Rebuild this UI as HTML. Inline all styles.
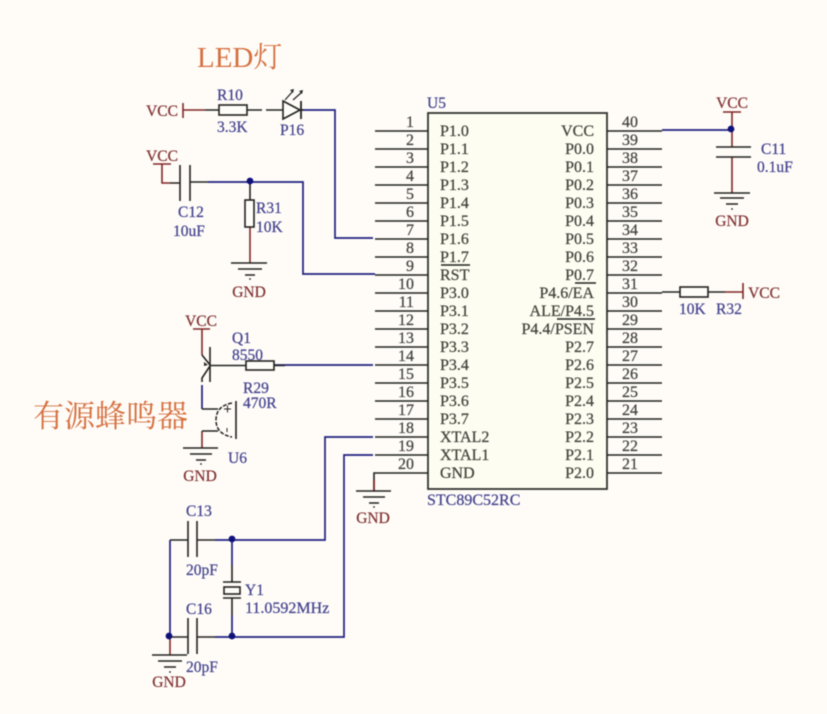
<!DOCTYPE html>
<html><head><meta charset="utf-8"><style>
html,body{margin:0;padding:0;background:#fffcf8}
svg{display:block;filter:blur(.5px)}
text{font-family:"Liberation Serif","Noto Serif CJK SC",serif;font-size:15.5px;stroke-width:.25px}
.c text{fill:#44443e;stroke:#44443e;font-size:16px}
.b text{fill:#44448e;stroke:#44448e}
.r text{fill:#823434;stroke:#823434}
</style></head><body>
<svg width="827" height="714" viewBox="0 0 827 714" xmlns="http://www.w3.org/2000/svg">
<rect width="827" height="714" fill="#fffcf8"/>
<rect x="428" y="113" width="179" height="376" fill="#fdfdf2" stroke="#33332e" stroke-width="1.8"/>
<!-- pins -->
<path fill="none" stroke="#22221e" stroke-width="1.6" d="M375 131H428M375 149H428M375 167H428M375 185H428M375 203H428M375 221H428M375 239H428M375 257H428M375 275H428M375 293H428M375 311H428M375 329H428M375 347H428M375 365H428M375 383H428M375 401H428M375 419H428M375 437H428M375 455H428M428 473H374V491
M607 131H662M607 149H662M607 167H662M607 185H662M607 203H662M607 221H662M607 239H662M607 257H662M607 275H662M607 293H662M607 311H662M607 329H662M607 347H662M607 365H662M607 383H662M607 401H662M607 419H662M607 437H662M607 455H662M607 473H662
M441 265H470M575 283H596M557 319H595"/>
<!-- blue wires -->
<path fill="none" stroke="#20207e" stroke-width="1.7" d="M302 110H335V238H373M208 182H303V274H375M274 365H373M373 437H325V540H215M373 455H344V637H215M662 130H731M202 385V409M170 540V636M232 540V565M232 615V636"/>
<!-- red wires -->
<path fill="none" stroke="#802626" stroke-width="1.6" d="M183 103V118M183 110H205M153 164H171M162 164V183H170M250 227V263M193 329H210M202 329V355M202 431V448M170 636V655M723 112H741M732 112V147M732 157V193M725 292H743M743 283V299M374 480V491"/>
<!-- dark symbol lines -->
<path fill="none" stroke="#22221e" stroke-width="1.6" d="M205 110H219M247 110H262M266 110H283M300 110H303M170 183H180M190 182H208M180 165V201M190 165V201M250 182V200M231 263H267M238 269H262M245 275H255
M202 355L210 365M210 347V382M210 366L202 378V382M210 365.500H246M274 365.500H285M202 409H218M202 431H218M236 401V439
M183 448H218M190 454H212M196 460H206M356 491H391M363 497H385M369 503H379
M170 540H188M197 540H215M188 521V557M197 521V557M170 637H188M197 637H215M188 618V654M197 618V654
M232 565V582M223 582H241M223 598H241M232 598V615M152 655H187M158 661H182M164 667H176
M716 147H751M716 157H751M714 193H750M720 198H744M726 204H738M662 292H680M708 292H725"/>
<!-- resistors -->
<g fill="#fffdf8" stroke="#22221e" stroke-width="1.6">
<rect x="219" y="105" width="28" height="10"/>
<rect x="245" y="200" width="9" height="27"/>
<rect x="246" y="361" width="28" height="9"/>
<rect x="680" y="287" width="28" height="10"/>
<rect x="224" y="587" width="16" height="7"/>
<path d="M283 101V119L300 110Z"/>
</g>
<path d="M301 101V119" stroke="#22221e" stroke-width="1.8"/>
<path d="M285 100L293 91M293 100L302 92" stroke="#22221e" stroke-width="1.2" fill="none"/>
<path d="M290 90l4-1-1 4zM299 91l4-1-1 4z" fill="#22221e"/>
<path d="M232 403Q216 406 216 420Q216 434 232 437" fill="none" stroke="#22221e" stroke-width="1.5" stroke-dasharray="4 1.500"/>
<path d="M224 409H231M227.500 405.500V412.500M227 428V432" stroke="#22221e" stroke-width="1"/>
<path d="M204 362l4 3-4 1z" fill="#22221e"/>
<g fill="#22221e"><circle cx="250" cy="279" r=".9"/><circle cx="201" cy="464" r=".9"/><circle cx="374" cy="507" r=".9"/><circle cx="170" cy="672" r=".9"/><circle cx="732" cy="209" r=".9"/></g>
<!-- junctions -->
<g fill="#10107a"><circle cx="250" cy="181" r="3.400"/><circle cx="232" cy="539" r="3.400"/><circle cx="232" cy="636" r="3.400"/><circle cx="169" cy="636" r="3.400"/><circle cx="731" cy="129" r="3.400"/></g>
<!-- chip labels -->
<g class="c">
<text x="440" y="136">P1.0</text><text x="440" y="154">P1.1</text><text x="440" y="172">P1.2</text><text x="440" y="190">P1.3</text><text x="440" y="208">P1.4</text><text x="440" y="226">P1.5</text><text x="440" y="244">P1.6</text><text x="440" y="262">P1.7</text><text x="440" y="280">RST</text><text x="440" y="298">P3.0</text><text x="440" y="316">P3.1</text><text x="440" y="334">P3.2</text><text x="440" y="352">P3.3</text><text x="440" y="370">P3.4</text><text x="440" y="388">P3.5</text><text x="440" y="406">P3.6</text><text x="440" y="424">P3.7</text><text x="440" y="442">XTAL2</text><text x="440" y="460">XTAL1</text><text x="440" y="478">GND</text>
<g text-anchor="end">
<text x="594" y="136">VCC</text><text x="594" y="154">P0.0</text><text x="594" y="172">P0.1</text><text x="594" y="190">P0.2</text><text x="594" y="208">P0.3</text><text x="594" y="226">P0.4</text><text x="594" y="244">P0.5</text><text x="594" y="262">P0.6</text><text x="594" y="280">P0.7</text><text x="594" y="298">P4.6/EA</text><text x="594" y="316">ALE/P4.5</text><text x="594" y="334">P4.4/PSEN</text><text x="594" y="352">P2.7</text><text x="594" y="370">P2.6</text><text x="594" y="388">P2.5</text><text x="594" y="406">P2.4</text><text x="594" y="424">P2.3</text><text x="594" y="442">P2.2</text><text x="594" y="460">P2.1</text><text x="594" y="478">P2.0</text>
<text x="414" y="127">1</text><text x="414" y="145">2</text><text x="414" y="163">3</text><text x="414" y="181">4</text><text x="414" y="199">5</text><text x="414" y="217">6</text><text x="414" y="235">7</text><text x="414" y="253">8</text><text x="414" y="271">9</text><text x="414" y="289">10</text><text x="414" y="307">11</text><text x="414" y="325">12</text><text x="414" y="343">13</text><text x="414" y="361">14</text><text x="414" y="379">15</text><text x="414" y="397">16</text><text x="414" y="415">17</text><text x="414" y="433">18</text><text x="414" y="451">19</text><text x="414" y="469">20</text>
</g>
<text x="622" y="127">40</text><text x="622" y="145">39</text><text x="622" y="163">38</text><text x="622" y="181">37</text><text x="622" y="199">36</text><text x="622" y="217">35</text><text x="622" y="235">34</text><text x="622" y="253">33</text><text x="622" y="271">32</text><text x="622" y="289">31</text><text x="622" y="307">30</text><text x="622" y="325">29</text><text x="622" y="343">28</text><text x="622" y="361">27</text><text x="622" y="379">26</text><text x="622" y="397">25</text><text x="622" y="415">24</text><text x="622" y="433">23</text><text x="622" y="451">22</text><text x="622" y="469">21</text>
</g>
<!-- designators -->
<g class="b">
<text x="427" y="108">U5</text>
<text x="427" y="505" style="font-size:16px">STC89C52RC</text>
<text x="217" y="100">R10</text><text x="217" y="132">3.3K</text><text x="280" y="135">P16</text>
<text x="178" y="217">C12</text><text x="173" y="236">10uF</text>
<text x="256" y="213">R31</text><text x="256" y="232">10K</text>
<text x="232" y="343">Q1</text><text x="232" y="360">8550</text>
<text x="243" y="393">R29</text><text x="243" y="408">470R</text><text x="228" y="463">U6</text>
<text x="186" y="516">C13</text><text x="186" y="575">20pF</text>
<text x="245" y="595">Y1</text><text x="245" y="613" style="font-size:16px">11.0592MHz</text>
<text x="186" y="614">C16</text><text x="186" y="672">20pF</text>
<text x="761" y="154">C11</text><text x="757" y="172">0.1uF</text>
<text x="679" y="314">10K</text><text x="716" y="314">R32</text>
</g>
<g class="r" text-anchor="middle">
<text x="162" y="116">VCC</text><text x="162" y="161">VCC</text><text x="249" y="297">GND</text>
<text x="201" y="326">VCC</text><text x="200" y="481">GND</text><text x="373" y="523">GND</text>
<text x="169" y="687">GND</text><text x="732" y="108">VCC</text><text x="732" y="226">GND</text><text x="764" y="298">VCC</text>
</g>
<text x="197" y="67" style="font-size:29px" fill="#d5703f">LED灯</text>
<text x="33" y="427" style="font-size:31px" fill="#d5703f">有源蜂鸣器</text>
</svg>
</body></html>
